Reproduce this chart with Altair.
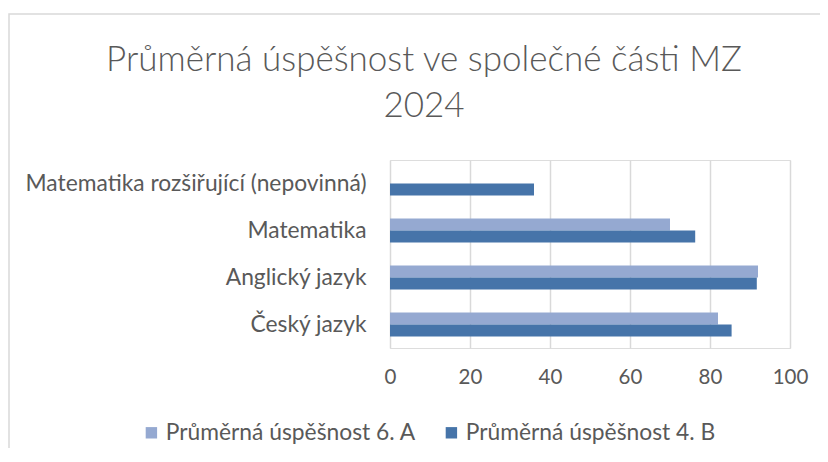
import altair as alt
import pandas as pd

categories = ["Matematika rozšiřující (nepovinná)", "Matematika", "Anglický jazyk", "Český jazyk"]
series = ["Průměrná úspěšnost 6. A", "Průměrná úspěšnost 4. B"]
values_6a = [None, 70, 92, 82]
values_4b = [36, 76.3, 91.7, 85.4]
colors = ["#95A9D1", "#4674A9"]
title_lines = ["Průměrná úspěšnost ve společné části MZ", "2024"]

rows = []
for c, a, b in zip(categories, values_6a, values_4b):
    if a is not None:
        rows.append({"predmet": c, "serie": series[0], "hodnota": a})
    if b is not None:
        rows.append({"predmet": c, "serie": series[1], "hodnota": b})
df = pd.DataFrame(rows)

FONT = "Lato"
GREY = "#595959"

bars = alt.Chart(df).mark_bar().encode(
    x=alt.X("hodnota:Q", scale=alt.Scale(domain=[0, 100], nice=False),
            axis=alt.Axis(values=[0, 20, 40, 60, 80, 100], title=None, domain=False, ticks=False,
                          grid=True, gridColor="#D9D9D9", gridWidth=1.5, labelFlush=False,
                          labelFont=FONT, labelFontSize=20.5, labelColor=GREY, labelPadding=19)),
    y=alt.Y("predmet:N", sort=categories,
            scale=alt.Scale(paddingInner=0.49, paddingOuter=0.245),
            axis=alt.Axis(title=None, domain=False, ticks=False, labelFont=FONT, labelFontSize=22.8,
                          labelColor=GREY, labelPadding=24, labelLimit=600)),
    yOffset=alt.YOffset("serie:N", sort=series, scale=alt.Scale(domain=series)),
    color=alt.Color("serie:N", scale=alt.Scale(domain=series, range=colors),
                    legend=alt.Legend(title=None, orient="none", direction="horizontal",
                                      legendX=-250, legendY=261, symbolType="square", symbolSize=130,
                                      symbolStrokeWidth=0, labelFont=FONT, labelFontSize=22.8,
                                      labelColor=GREY, columnPadding=24, labelOffset=3,
                                      labelLimit=600)),
)

frame = alt.Chart(pd.DataFrame({"k": [0]})).mark_rect(
    fill=None, stroke="#D9D9D9", strokeWidth=1.5
).encode(
    x=alt.value(-381), x2=alt.value(470), y=alt.value(-146), y2=alt.value(330)
)

chart = alt.layer(frame, bars).properties(
    width=400,
    height=188,
    title=alt.Title(title_lines, font=FONT, fontSize=35, fontWeight=300, color=GREY,
                    anchor="middle", dx=-166, dy=147, offset=36, lineHeight=46),
    autosize=alt.AutoSizeParams(type="none"),
    padding={"left": 382, "top": 152, "right": 30, "bottom": 100},
).configure_view(stroke=None).configure(background="white")

chart.save("out.html", embed_options={"renderer": "svg", "actions": False})
